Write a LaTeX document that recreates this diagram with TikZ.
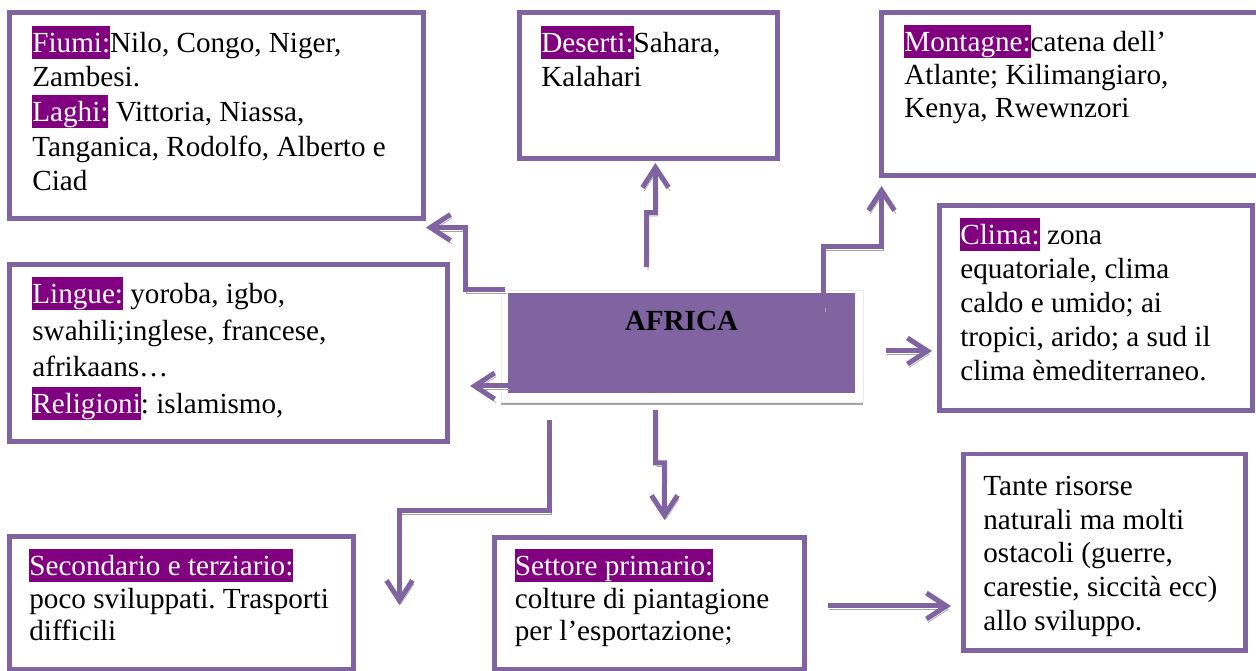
\documentclass[tikz,border=0pt]{standalone}
\usepackage{fontspec}
\setmainfont{Liberation Serif}
\usetikzlibrary{positioning, arrows.meta}
\definecolor{boxpurple}{HTML}{8064A2}
\definecolor{hlpurple}{HTML}{800080}
\definecolor{shadowgray}{HTML}{A6A6A6}
\newcommand{\hl}[1]{{\setlength{\fboxsep}{0pt}\colorbox{hlpurple}{\rule[-0.22em]{0pt}{1.12em}\textcolor{white}{#1}}}}
\newcommand{\topstrut}{\rule{0pt}{0.9em}}
\frenchspacing

\begin{document}
\begin{tikzpicture}[
      x=0.02cm, y=-0.02cm,
      % riquadri con bordo viola
      box/.style={rectangle, draw=boxpurple, line width=0.1cm, fill=white, inner sep=0pt, outer sep=0pt, anchor=north west},
      % testo dei riquadri
      txt/.style={anchor=north west, inner sep=0pt, align=left, font=\fontsize{16.6}{#1}\selectfont},
      txt/.default=19.7pt,
      % frecce con ombra grigia
      arrow/.style={draw=boxpurple, line width=0.1cm, -{Straight Barb[length=4mm, width=5.2mm]},
        preaction={draw=shadowgray, transform canvas={shift={(1.5,3.5)}}}}
    ]
    \useasboundingbox (0,0) rectangle (1256,671);
    \clip (0,0) rectangle (1256,671);

    % --- centro: AFRICA ---
    \fill[shadowgray] (501,293) rectangle (863,405);
    \filldraw[fill=white, draw=black!8, line width=0.4pt] (501,290) rectangle (863,402);
    \node [rectangle, fill=boxpurple, inner sep=0pt, outer sep=0pt, minimum width=6.94cm, minimum height=2cm] (africa) at (681.5,343) {};
    \node [anchor=base, inner sep=0pt, font=\fontsize{16.6}{19.7pt}\selectfont\bfseries] (africatxt) at ([shift={(0,37)}]africa.north) {AFRICA};

    % --- riquadri in alto ---
    \node [box, minimum width=8.29cm, minimum height=4.12cm] (fiumi) at (9.5,12.5) {};
    \node [txt] (fiumitxt) at ([shift={(22.5,13.1)}]fiumi.north west)
      {\hl{Fiumi:}Nilo, Congo, Niger,\\ Zambesi.\\ \hl{Laghi:} Vittoria, Niassa,\\ Tanganica, Rodolfo, Alberto e\\ Ciad};
    \node [box, minimum width=5.17cm, minimum height=2.92cm] (deserti) at (519.5,12.5) {};
    \node [txt] (desertitxt) at ([shift={(21.5,13.1)}]deserti.north west)
      {\hl{Deserti:}Sahara,\\ Kalahari};
    \node [box, minimum width=7.8cm, minimum height=3.26cm] (montagne) at (881.5,12.5) {};
    \node [txt=18.8pt] (montagnetxt) at ([shift={(22.5,12.5)}]montagne.north west)
      {\hl{Montagne:}catena dell’\\ Atlante; Kilimangiaro,\\ Kenya, Rwewnzori};

    % --- riquadri al centro ---
    \node [box, minimum width=6.26cm, minimum height=4.1cm] (clima) at (939.5,205.5) {};
    \node [txt=19.35pt] (climatxt) at ([shift={(20.5,12.5)}]clima.north west)
      {\hl{Clima:} zona\\ equatoriale, clima\\ caldo e umido; ai\\ tropici, arido; a sud il\\ clima èmediterraneo.};
    \node [box, minimum width=8.76cm, minimum height=3.53cm] (lingue) at (9.5,265) {};
    \node [txt=20.8pt] (linguetxt) at ([shift={(22.5,12)}]lingue.north west)
      {\hl{Lingue:} yoroba, igbo,\\ swahili;inglese, francese,\\ afrikaans…\\ \hl{Religioni}: islamismo,};

    % --- riquadri in basso ---
    \node [box, minimum width=6.88cm, minimum height=2.67cm] (secondario) at (9.5,536.5) {};
    \node [txt=18.5pt] (secondariotxt) at ([shift={(19.5,12.5)}]secondario.north west)
      {\hl{Secondario e terziario:}\\ poco sviluppati. Trasporti\\ difficili};
    \node [box, minimum width=6.22cm, minimum height=2.65cm] (settore) at (494,537.5) {};
    \node [txt=18.5pt] (settoretxt) at ([shift={(20.5,11.5)}]settore.north west)
      {\hl{Settore primario:}\\ colture di piantagione\\ per l’esportazione;};
    \node [box, minimum width=5.66cm, minimum height=3.93cm] (tante) at (963,454) {};
    \node [txt=19.2pt] (tantetxt) at ([shift={(20,14.7)}]tante.north west)
      {\topstrut Tante risorse\\ naturali ma molti\\ ostacoli (guerre,\\ carestie, siccità ecc)\\ allo sviluppo.};

    % --- frecce ---
    \draw [arrow] ([shift={(-3,-3.5)}]africa.north west) -- ++(-40,0) |- ([shift={(2,9)}]fiumi.south east);
    \draw [arrow] ([shift={(-35,-26)}]africa.north) -- ++(0,-54.5) -- ++(9,0) -- ([shift={(6.75,4.5)}]deserti.south);
    \draw [arrow] ([shift={(-31.5,15)}]africa.north east) -- ++(0,-61.5) -| ([shift={(0,10.5)}]montagne.south west);
    \draw [arrow] ([shift={(0,-7)}]africa.south west) coordinate (d0) -- ([xshift=-0.76cm]d0);
    \draw [arrow] ([shift={(31,8)}]africa.east) coordinate (e0) -- ([shift={(-7.5,0)}]clima.west |- e0);
    \draw [arrow] ([shift={(-132,27)}]africa.south) -- ++(0,90.5) -| ([shift={(46,68.5)}]secondario.north east);
    \draw [arrow] ([shift={(-26,17)}]africa.south) -- ++(0,53) -- ++(9,0) -- ([shift={(15,-17.5)}]settore.north);
    \draw [arrow] ([shift={(23,2.25)}]settore.east) coordinate (h0) -- ([shift={(-12,0)}]tante.west |- h0);

    \end{tikzpicture}
\end{document}
